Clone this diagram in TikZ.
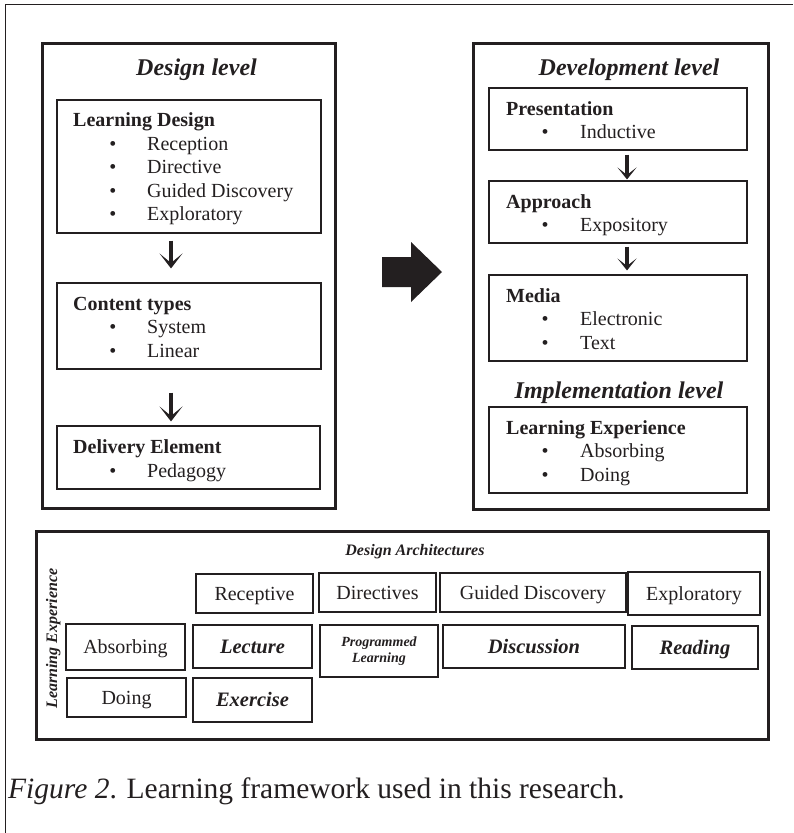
\documentclass[tikz,border=0pt]{standalone}
\usepackage{fontspec}
\setmainfont{Liberation Serif}
\usetikzlibrary{arrows.meta}
\definecolor{ink}{RGB}{35,31,32}
\begin{document}
\begin{tikzpicture}[x=1pt,y=-1pt,
  every node/.style={text=ink},
  thinbox/.style={draw=ink, line width=1.1pt, inner sep=0pt},
  thickbox/.style={draw=ink, line width=2.4pt, inner sep=0pt},
  panelbox/.style={draw=ink, line width=3pt, inner sep=0pt},
  head/.style={anchor=base west, inner sep=0pt, font=\fontsize{20}{24}\selectfont\bfseries},
  item/.style={anchor=base west, inner sep=0pt, font=\fontsize{20}{24}\selectfont},
  bul/.style={anchor=base, inner sep=0pt, font=\fontsize{20}{24}\selectfont},
  title/.style={anchor=base, inner sep=0pt, font=\fontsize{24}{28}\selectfont\bfseries\itshape},
  cell/.style={thinbox, text height=13pt, text depth=0pt, font=\fontsize{20}{24}\selectfont},
  bcell/.style={thickbox, text height=13pt, text depth=0pt, font=\fontsize{20.5}{24}\selectfont\bfseries\itshape},
  bigdown/.style={draw=ink, line width=3.8pt, arrows={-Stealth[length=15pt,width=23pt,inset=9.5pt,line width=0pt]}},
  smalldown/.style={draw=ink, line width=3.6pt, arrows={-Stealth[length=12pt,width=19pt,inset=7.5pt,line width=0pt]}}
]
\useasboundingbox (0,0) rectangle (793,833);
% outer frame (partial)
\draw[ink, line width=1pt] (5,833) -- (5,4) -- (793,4);

% ---------- Design level panel ----------
\node[panelbox, minimum width=293pt, minimum height=465pt] (design) at (188.5,275.5) {};
\node[title] (designT) at (196.5,75) {Design level};

\node[thinbox, minimum width=264pt, minimum height=133pt] (ld) at (189,166.5) {};
\node[head] (ldH) at (73,126) {Learning Design};
\node[bul] (ldb1) at (113,150) {•}; \node[item] (ld1) at (147,150) {Reception};
\node[bul] (ldb2) at (113,173.5) {•}; \node[item] (ld2) at (147,173.5) {Directive};
\node[bul] (ldb3) at (113,197) {•}; \node[item] (ld3) at (147,197) {Guided Discovery};
\node[bul] (ldb4) at (113,220.5) {•}; \node[item] (ld4) at (147,220.5) {Exploratory};

\node[thinbox, minimum width=264pt, minimum height=86pt] (ct) at (189,326) {};
\node[head] (ctH) at (73,310) {Content types};
\node[bul] (ctb1) at (113,333.5) {•}; \node[item] (ct1) at (147,333.5) {System};
\node[bul] (ctb2) at (113,357) {•}; \node[item] (ct2) at (147,357) {Linear};

\node[thinbox, minimum width=263pt, minimum height=63pt] (de) at (188.5,457.5) {};
\node[head] (deH) at (73,453) {Delivery Element};
\node[bul] (deb1) at (113,477) {•}; \node[item] (de1) at (147,477) {Pedagogy};

\coordinate (axL) at (171,0);
\draw[bigdown, shorten <=7pt, shorten >=14pt] (ld.south -| axL) -- (ct.north -| axL);
\draw[bigdown, shorten <=23pt, shorten >=4pt] (ct.south -| axL) -- (de.north -| axL);

% ---------- big arrow ----------
\fill[ink] (382,257) -- (411,257) -- (411,242) -- (442,272) -- (411,302) -- (411,287) -- (382,287) -- cycle;

% ---------- Development level panel ----------
\node[panelbox, minimum width=295pt, minimum height=466pt] (dev) at (620.5,276) {};
\node[title] (devT) at (629,75) {Development level};

\node[thinbox, minimum width=258pt, minimum height=62pt] (pres) at (618,119) {};
\node[head] (presH) at (506,115) {Presentation};
\node[bul] (presb1) at (545,138) {•}; \node[item] (pres1) at (580,138) {Inductive};

\node[thinbox, minimum width=258pt, minimum height=62pt] (appr) at (618,212) {};
\node[head] (apprH) at (506,208) {Approach};
\node[bul] (apprb1) at (545,231.5) {•}; \node[item] (appr1) at (580,231.5) {Expository};

\node[thinbox, minimum width=258pt, minimum height=86pt] (media) at (618,318) {};
\node[head] (mediaH) at (506,302) {Media};
\node[bul] (mediab1) at (545,325.5) {•}; \node[item] (media1) at (580,325.5) {Electronic};
\node[bul] (mediab2) at (545,349) {•}; \node[item] (media2) at (580,349) {Text};

\node[title] (implT) at (619,398) {Implementation level};

\node[thinbox, minimum width=258pt, minimum height=86pt] (lexp) at (618,450) {};
\node[head] (lexpH) at (506,434) {Learning Experience};
\node[bul] (lexpb1) at (545,457.5) {•}; \node[item] (lexp1) at (580,457.5) {Absorbing};
\node[bul] (lexpb2) at (545,481) {•}; \node[item] (lexp2) at (580,481) {Doing};

\coordinate (axR) at (627,0);
\draw[smalldown, shorten <=4pt, shorten >=1pt] (pres.south -| axR) -- (appr.north -| axR);
\draw[smalldown, shorten <=3pt, shorten >=4pt] (appr.south -| axR) -- (media.north -| axR);

% ---------- Design architectures table ----------
\node[panelbox, minimum width=732pt, minimum height=208pt] (arch) at (402,635) {};
\node[anchor=base, inner sep=0pt, font=\fontsize{16}{19}\selectfont\bfseries\itshape] (archT) at (415,555) {Design Architectures};
\node[anchor=base, inner sep=0pt, rotate=90, font=\fontsize{16}{19}\selectfont\bfseries\itshape] (lexpV) at (57,638.5) {Learning Experience};

\node[cell, minimum width=117pt, minimum height=39pt] (rec) at (254.5,593.5) {Receptive};
\node[cell, minimum width=117pt, minimum height=39pt] (dir) at (377.5,592.5) {Directives};
\node[cell, minimum width=186pt, minimum height=39pt] (gd) at (533,592.5) {Guided Discovery};
\node[cell, minimum width=132pt, minimum height=43pt] (exp) at (694,593.5) {Exploratory};

\node[cell, minimum width=119pt, minimum height=46pt] (abs) at (125.5,647) {Absorbing};
\node[bcell, minimum width=119pt, minimum height=43pt] (lec) at (252.5,646.5) {Lecture};
\node[thickbox, minimum width=118pt, minimum height=52pt, align=center, font=\fontsize{14}{15.5}\selectfont\bfseries\itshape] (prog) at (379,651) {Programmed\\Learning};
\node[bcell, minimum width=182pt, minimum height=43pt] (disc) at (534,646.5) {Discussion};
\node[bcell, minimum width=126pt, minimum height=43pt] (read) at (695,647.5) {Reading};

\node[cell, minimum width=119pt, minimum height=39pt] (doing) at (126.5,697.5) {Doing};
\node[bcell, minimum width=119pt, minimum height=44pt] (exer) at (252.5,700) {Exercise};

% ---------- caption ----------
\node[anchor=base west, inner sep=0pt, font=\fontsize{29.5}{34}\selectfont] (cap) at (8,798) {\textit{Figure 2}. Learning framework used in this research.};
\end{tikzpicture}
\end{document}
